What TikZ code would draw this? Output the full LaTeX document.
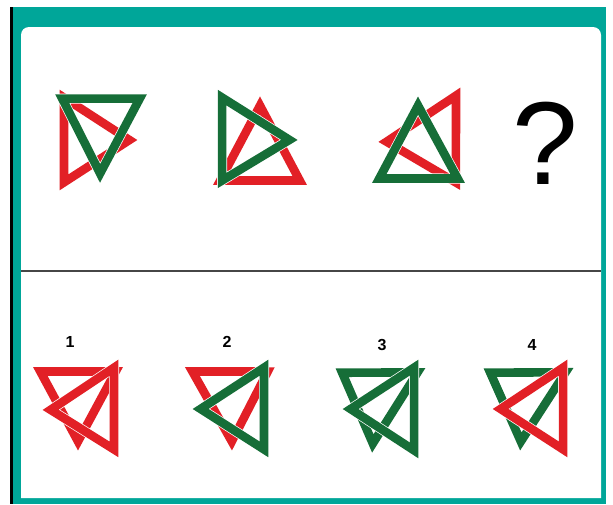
\documentclass[tikz,border=0pt]{standalone}
\usepackage{fontspec}
\setmainfont{Liberation Sans}
\usetikzlibrary{calc}
\definecolor{tealband}{RGB}{0,166,153}
\definecolor{trired}{RGB}{226,32,38}
\definecolor{trigreen}{RGB}{22,110,56}
\definecolor{divider}{RGB}{70,70,70}
\tikzset{
  triline/.style={line width=8.6pt, line join=miter},
  numlabel/.style={font=\fontsize{16}{16}\selectfont\bfseries, text=black, inner sep=0pt}
}
% draw a triangle outline whose OUTER corners are #2,#3,#4
\newcommand\drawtri[4]{%
  \coordinate (ta) at #2; \coordinate (tb) at #3; \coordinate (tc) at #4;
  \coordinate (tm) at (barycentric cs:ta=1,tb=1,tc=1);
  \draw[triline, draw=white, line width=10pt] ($(ta)!8.6pt!(tm)$) -- ($(tb)!8.6pt!(tm)$) -- ($(tc)!8.6pt!(tm)$) -- cycle;
  \draw[triline, draw=#1] ($(ta)!8.6pt!(tm)$) -- ($(tb)!8.6pt!(tm)$) -- ($(tc)!8.6pt!(tm)$) -- cycle;
}
\begin{document}
\begin{tikzpicture}[x=1pt,y=-1pt]
\useasboundingbox (0,0) rectangle (613,504);
\fill[white] (0,0) rectangle (613,504);
% frame
\fill[tealband] (13,7) rectangle (606,504);
\fill[black] (10,7) rectangle (13,504);
\fill[white, rounded corners=8pt] (21,498) -- (21,27) -- (601,27) -- (601,498);
\coordinate (divL) at (21,271);
\coordinate (divR) at (601,271);
\draw[divider, line width=2pt] (divL) -- (divR);

% ---- top row ----
\drawtri{trired}{(60,90)}{(138,140)}{(60,190)}
\drawtri{trigreen}{(55,94)}{(147,94)}{(100,182)}

\drawtri{trired}{(260,97)}{(213,185)}{(307,185)}
\drawtri{trigreen}{(218,90)}{(298,140)}{(218,188)}

\drawtri{trired}{(460,88)}{(378,142)}{(460,190)}
\drawtri{trigreen}{(418,97)}{(372,183)}{(465,183)}

\node[font=\fontsize{118}{118}\selectfont, inner sep=0pt] (qmark) at (545,143) {?};

% ---- bottom row ----
\node[numlabel] (n1) at (70,342) {1};
\drawtri{trired}{(33,367)}{(123,367)}{(78,450)}
\drawtri{trired}{(118,360)}{(42,410)}{(118,457)}

\node[numlabel] (n2) at (227,342) {2};
\drawtri{trired}{(185,367)}{(275,367)}{(232,450)}
\drawtri{trigreen}{(268,360)}{(192,409)}{(268,457)}

\node[numlabel] (n3) at (382,345) {3};
\drawtri{trigreen}{(335,368)}{(425,368)}{(372,452)}
\drawtri{trigreen}{(418,360)}{(342,409)}{(418,458)}

\node[numlabel] (n4) at (532,345) {4};
\drawtri{trigreen}{(483,368)}{(573,368)}{(520,450)}
\drawtri{trired}{(567,360)}{(492,409)}{(567,457)}
\end{tikzpicture}
\end{document}
